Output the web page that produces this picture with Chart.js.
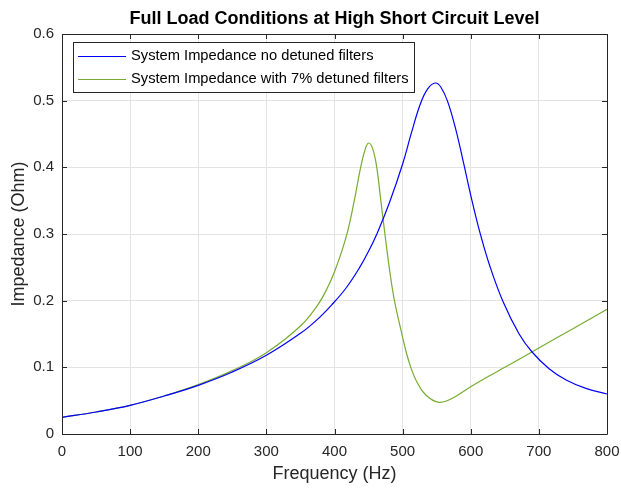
<!DOCTYPE html>
<html>
<head>
<meta charset="utf-8">
<script src="https://cdn.jsdelivr.net/npm/chart.js@4/dist/chart.umd.min.js"></script>
<style>
  html, body { margin: 0; padding: 0; background: #fff; }
  #wrap { width: 621px; height: 488px; }
</style>
</head>
<body>
<div id="wrap"><canvas id="impChart"></canvas></div>
<script>
// values
const freqNoFilter = [0, 50, 100, 150, 200, 250, 300, 350, 375, 397, 417, 437, 450, 463, 481, 500, 513, 526, 537, 548, 556, 566, 578, 590, 600, 613, 628, 647, 671, 690, 715, 740, 770, 800];
const impNoFilter  = [0.025, 0.033, 0.043, 0.057, 0.073, 0.093, 0.118, 0.151, 0.172, 0.195, 0.219, 0.250, 0.274, 0.302, 0.348, 0.405, 0.452, 0.495, 0.518, 0.5265, 0.5205, 0.499, 0.457, 0.404, 0.358, 0.304, 0.252, 0.1995, 0.150, 0.123, 0.098, 0.081, 0.068, 0.060];

const freqDetuned = [0, 50, 100, 150, 200, 250, 300, 350, 375, 390, 400, 410, 420, 430, 438, 445, 450, 456, 462, 468, 474, 481, 488, 500, 506, 512, 520, 534, 553, 570, 600, 627, 650, 700, 750, 800];
const impDetuned  = [0.025, 0.033, 0.043, 0.057, 0.074, 0.095, 0.122, 0.162, 0.193, 0.220, 0.2435, 0.272, 0.307, 0.355, 0.398, 0.427, 0.4365, 0.428, 0.400, 0.350, 0.300, 0.245, 0.200, 0.145, 0.120, 0.100, 0.080, 0.0585, 0.0475, 0.052, 0.071, 0.087, 0.100, 0.129, 0.158, 0.187];

const legendLabels = ['System Impedance no detuned filters', 'System Impedance with 7% detuned filters'];
const xTicks = [0, 100, 200, 300, 400, 500, 600, 700, 800];
const yTicks = [0, 0.1, 0.2, 0.3, 0.4, 0.5, 0.6];

const axisColor = '#262626';
const fontFam = '"Liberation Sans", Arial, Helvetica, sans-serif';

function toPoints(xs, ys) {
    return xs.map((x, i) => ({ x: x, y: ys[i] }));
}

// MATLAB style box, inward ticks, title and legend
const matlabFrame = {
    id: 'matlabFrame',
    afterDatasetsDraw(chart) {
        const c = chart.ctx;
        const a = chart.chartArea;
        const xs = chart.scales.x, ys = chart.scales.y;
        c.save();
        c.strokeStyle = axisColor;
        c.lineWidth = 1;
        c.beginPath();
        c.rect(Math.round(a.left) + 0.5, Math.round(a.top) + 0.5, Math.round(a.right - a.left), Math.round(a.bottom - a.top));
        c.stroke();
        c.beginPath();
        xTicks.forEach(v => {
            const px = Math.round(xs.getPixelForValue(v)) + 0.5;
            c.moveTo(px, a.bottom); c.lineTo(px, a.bottom - 5);
            c.moveTo(px, a.top); c.lineTo(px, a.top + 5);
        });
        yTicks.forEach(v => {
            const py = Math.round(ys.getPixelForValue(v)) + 0.5;
            c.moveTo(a.left, py); c.lineTo(a.left + 5, py);
            c.moveTo(a.right, py); c.lineTo(a.right - 5, py);
        });
        c.stroke();

        // title
        c.fillStyle = '#000';
        c.font = 'bold 18px ' + fontFam;
        c.textAlign = 'center';
        c.textBaseline = 'middle';
        c.fillText('Full Load Conditions at High Short Circuit Level', (a.left + a.right) / 2, 19);

        // legend
        const lx = 73, ly = 42, lw = 341, lh = 50;
        c.fillStyle = '#fff';
        c.fillRect(lx, ly, lw, lh);
        c.strokeStyle = axisColor;
        c.strokeRect(lx + 0.5, ly + 0.5, lw, lh);
        c.font = '14.7px ' + fontFam;
        c.textAlign = 'left';
        chart.data.datasets.forEach((ds, i) => {
            const yy = 56 + i * 23;
            c.strokeStyle = ds.borderColor;
            c.beginPath();
            c.moveTo(78, yy + 0.5); c.lineTo(126, yy + 0.5);
            c.stroke();
            c.fillStyle = '#000';
            c.fillText(legendLabels[i], 131, yy);
        });
        c.restore();
    }
};

new Chart(document.getElementById('impChart'), {
    type: 'line',
    data: {
        datasets: [
            {
                label: legendLabels[0],
                data: toPoints(freqNoFilter, impNoFilter),
                borderColor: '#0000ff',
                borderWidth: 1.2,
                pointRadius: 0,
                tension: 0.4,
                fill: false
            },
            {
                label: legendLabels[1],
                data: toPoints(freqDetuned, impDetuned),
                borderColor: '#77ac30',
                borderWidth: 1.2,
                pointRadius: 0,
                tension: 0.4,
                fill: false
            }
        ]
    },
    options: {
        responsive: true,
        maintainAspectRatio: false,
        animation: false,
        layout: { padding: { top: 34, right: 14, left: 0, bottom: 0 } },
        plugins: {
            legend: { display: false },
            title: { display: false },
            tooltip: { enabled: false }
        },
        scales: {
            x: {
                type: 'linear',
                min: 0,
                max: 800,
                afterBuildTicks: s => { s.ticks = xTicks.map(v => ({ value: v })); },
                afterFit: s => { s.height = 54; s.paddingLeft = 0; s.paddingRight = 0; },
                grid: { color: '#e3e3e3', drawTicks: false },
                border: { display: false },
                ticks: { color: axisColor, font: { family: fontFam, size: 15 }, padding: 9, maxRotation: 0 },
                title: { display: true, text: 'Frequency (Hz)', color: axisColor, font: { family: fontFam, size: 18 }, padding: { top: 0, bottom: 3 } }
            },
            y: {
                type: 'linear',
                min: 0,
                max: 0.6,
                afterBuildTicks: s => { s.ticks = yTicks.map(v => ({ value: v })); },
                afterFit: s => { s.width = 62; },
                grid: { color: '#e3e3e3', drawTicks: false },
                border: { display: false },
                ticks: { color: axisColor, font: { family: fontFam, size: 15 }, padding: 8, callback: v => (v === 0 ? '0' : v.toFixed(1)) },
                title: { display: true, text: 'Impedance (Ohm)', color: axisColor, font: { family: fontFam, size: 18 }, padding: { top: 8, bottom: 0 } }
            }
        }
    },
    plugins: [matlabFrame]
});
</script>
</body>
</html>
